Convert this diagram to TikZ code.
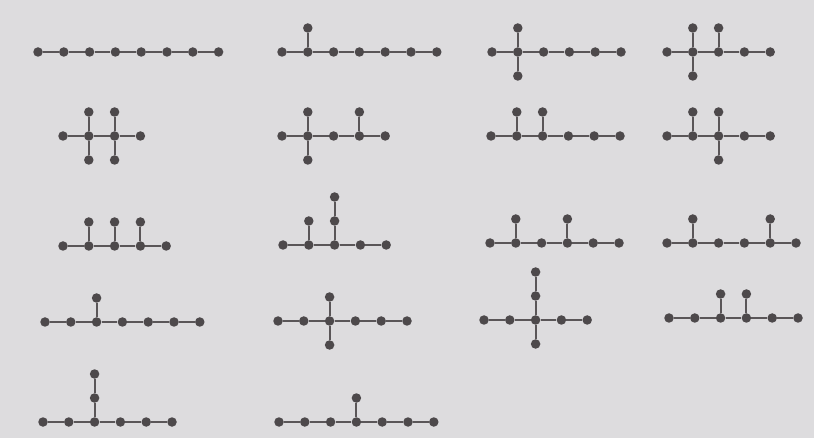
\documentclass[tikz,border=0pt]{standalone}
\usetikzlibrary{positioning}
\definecolor{paper}{HTML}{DDDCDE}
\definecolor{atomgray}{HTML}{4D494B}
\definecolor{bondgray}{HTML}{5A5658}

% straight carbon chain: name, x of first atom, y, number of atoms
\newcommand{\chainmol}[4]{%
  \foreach \i in {1,...,#4}
    \node[atom] (#1c\i) at ({#2+(\i-1)*25.8},#3) {};
  \foreach \i [remember=\i as \prev (initially 1)] in {2,...,#4}
    \draw[bond] (#1c\prev) -- (#1c\i);
}
% one side atom: parent node, new name, direction
\newcommand{\sidegroup}[3]{%
  \node[atom, #3=of #1] (#2) {};
  \draw[bond] (#1) -- (#2);
}

\begin{document}
\begin{tikzpicture}[
    x=1pt, y=-1pt,
    on grid, node distance=24pt,
    atom/.style={circle, fill=atomgray, inner sep=0pt, minimum size=9.5pt},
    bond/.style={bondgray, line width=2pt}
  ]
  \fill[paper] (0,0) rectangle (814,438);

  % Row 1
  \chainmol{m1}{38}{52}{8}
  \chainmol{m2}{282}{52}{7}
  \sidegroup{m2c2}{m2a}{above}
  \chainmol{m3}{492}{52}{6}
  \sidegroup{m3c2}{m3a}{above}
  \sidegroup{m3c2}{m3b}{below}
  \chainmol{m4}{667}{52}{5}
  \sidegroup{m4c2}{m4a}{above}
  \sidegroup{m4c2}{m4b}{below}
  \sidegroup{m4c3}{m4c}{above}

  % Row 2
  \chainmol{m5}{63}{136}{4}
  \sidegroup{m5c2}{m5a}{above}
  \sidegroup{m5c2}{m5b}{below}
  \sidegroup{m5c3}{m5c}{above}
  \sidegroup{m5c3}{m5d}{below}
  \chainmol{m6}{282}{136}{5}
  \sidegroup{m6c2}{m6a}{above}
  \sidegroup{m6c2}{m6b}{below}
  \sidegroup{m6c4}{m6c}{above}
  \chainmol{m7}{491}{136}{6}
  \sidegroup{m7c2}{m7a}{above}
  \sidegroup{m7c3}{m7b}{above}
  \chainmol{m8}{667}{136}{5}
  \sidegroup{m8c2}{m8a}{above}
  \sidegroup{m8c3}{m8b}{above}
  \sidegroup{m8c3}{m8c}{below}

  % Row 3
  \chainmol{m9}{63}{246}{5}
  \sidegroup{m9c2}{m9a}{above}
  \sidegroup{m9c3}{m9b}{above}
  \sidegroup{m9c4}{m9c}{above}
  \chainmol{m10}{283}{245}{5}
  \sidegroup{m10c2}{m10a}{above}
  \sidegroup{m10c3}{m10b}{above}
  \sidegroup{m10b}{m10e}{above}
  \chainmol{m11}{490}{243}{6}
  \sidegroup{m11c2}{m11a}{above}
  \sidegroup{m11c4}{m11b}{above}
  \chainmol{m12}{667}{243}{6}
  \sidegroup{m12c2}{m12a}{above}
  \sidegroup{m12c5}{m12b}{above}

  % Row 4
  \chainmol{m13}{45}{322}{7}
  \sidegroup{m13c3}{m13a}{above}
  \chainmol{m14}{278}{321}{6}
  \sidegroup{m14c3}{m14a}{above}
  \sidegroup{m14c3}{m14b}{below}
  \chainmol{m15}{484}{320}{5}
  \sidegroup{m15c3}{m15a}{above}
  \sidegroup{m15a}{m15e}{above}
  \sidegroup{m15c3}{m15b}{below}
  \chainmol{m16}{669}{318}{6}
  \sidegroup{m16c3}{m16a}{above}
  \sidegroup{m16c4}{m16b}{above}

  % Row 5
  \chainmol{m17}{43}{422}{6}
  \sidegroup{m17c3}{m17a}{above}
  \sidegroup{m17a}{m17e}{above}
  \chainmol{m18}{279}{422}{7}
  \sidegroup{m18c4}{m18a}{above}
\end{tikzpicture}
\end{document}
